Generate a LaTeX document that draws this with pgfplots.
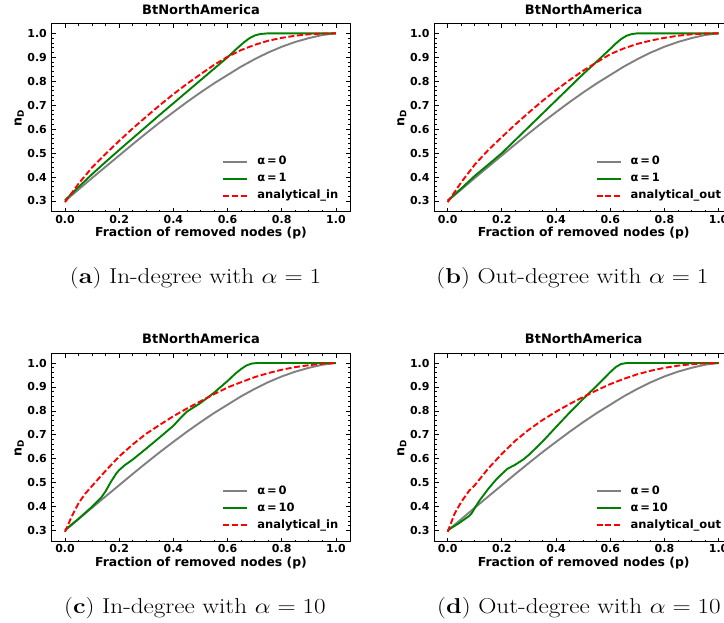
\RequirePackage{fix-cm}
\documentclass[border=0pt]{standalone}
\usepackage{fontspec}
\usepackage{graphicx}
\usepackage{pgfplots}
\usepackage{pgfplotstable}
\pgfplotsset{compat=1.18}
\newfontfamily\djv{DejaVu Sans}
\definecolor{mgray}{HTML}{808080}
\definecolor{mgreen}{HTML}{008000}
\definecolor{mred}{HTML}{FF0000}

% alpha = 0 baseline (same in all panels)
\pgfplotstableread{
p v
0.00 0.300
0.05 0.348
0.10 0.396
0.15 0.443
0.20 0.490
0.25 0.537
0.30 0.583
0.35 0.628
0.40 0.671
0.45 0.713
0.50 0.753
0.55 0.791
0.60 0.826
0.65 0.861
0.70 0.892
0.75 0.920
0.80 0.944
0.85 0.964
0.90 0.980
0.95 0.993
1.00 1.000
}\grayA

\pgfplotstableread{
p v
0.00 0.303
0.05 0.358
0.10 0.412
0.15 0.463
0.20 0.513
0.25 0.562
0.30 0.611
0.35 0.660
0.40 0.708
0.45 0.756
0.50 0.804
0.55 0.852
0.60 0.900
0.63 0.932
0.66 0.962
0.68 0.979
0.70 0.991
0.72 0.997
0.75 1.000
1.00 1.000
}\greenA

\pgfplotstableread{
p v
0.00 0.295
0.05 0.372
0.10 0.440
0.15 0.497
0.20 0.551
0.25 0.603
0.30 0.652
0.35 0.700
0.40 0.746
0.45 0.789
0.50 0.829
0.55 0.868
0.60 0.902
0.65 0.930
0.70 0.952
0.75 0.969
0.80 0.981
0.85 0.990
0.90 0.996
0.95 0.999
1.00 1.000
}\redA

\pgfplotstableread{
p v
0.00 0.302
0.05 0.352
0.10 0.405
0.15 0.452
0.20 0.500
0.25 0.555
0.30 0.610
0.35 0.665
0.40 0.720
0.45 0.775
0.50 0.830
0.55 0.882
0.60 0.935
0.62 0.957
0.64 0.976
0.66 0.990
0.68 0.997
0.70 1.000
1.00 1.000
}\greenB

\pgfplotstableread{
p v
0.00 0.295
0.05 0.378
0.10 0.452
0.15 0.513
0.20 0.567
0.25 0.620
0.30 0.670
0.35 0.718
0.40 0.763
0.45 0.805
0.50 0.844
0.55 0.879
0.60 0.913
0.65 0.937
0.70 0.956
0.75 0.970
0.80 0.981
0.85 0.990
0.90 0.996
0.95 0.999
1.00 1.000
}\redB

\pgfplotstableread{
p v
0.00 0.303
0.05 0.350
0.10 0.400
0.135 0.440
0.15 0.465
0.17 0.505
0.19 0.540
0.20 0.553
0.22 0.573
0.25 0.597
0.30 0.643
0.35 0.690
0.40 0.738
0.43 0.775
0.45 0.797
0.50 0.833
0.55 0.876
0.60 0.925
0.63 0.957
0.65 0.975
0.67 0.990
0.69 0.998
0.71 1.000
1.00 1.000
}\greenC

\pgfplotstableread{
p v
0.00 0.295
0.025 0.360
0.05 0.415
0.075 0.455
0.10 0.487
0.15 0.550
0.20 0.610
0.25 0.660
0.30 0.705
0.35 0.742
0.40 0.778
0.45 0.810
0.50 0.840
0.55 0.870
0.60 0.898
0.65 0.920
0.70 0.941
0.75 0.958
0.80 0.972
0.85 0.983
0.90 0.991
0.95 0.997
1.00 1.000
}\redC

\pgfplotstableread{
p v
0.00 0.302
0.04 0.330
0.08 0.362
0.09 0.375
0.10 0.395
0.12 0.430
0.15 0.475
0.18 0.515
0.20 0.537
0.22 0.558
0.25 0.576
0.28 0.598
0.30 0.617
0.35 0.672
0.40 0.733
0.45 0.793
0.50 0.850
0.55 0.905
0.60 0.962
0.62 0.983
0.64 0.996
0.66 1.000
1.00 1.000
}\greenD

\pgfplotstableread{
p v
0.00 0.295
0.025 0.370
0.05 0.420
0.08 0.468
0.10 0.490
0.15 0.560
0.20 0.621
0.25 0.676
0.30 0.722
0.35 0.762
0.40 0.797
0.45 0.829
0.50 0.858
0.55 0.886
0.60 0.912
0.65 0.934
0.70 0.953
0.75 0.968
0.80 0.980
0.85 0.989
0.90 0.995
0.95 0.999
1.00 1.000
}\redD

\pgfplotsset{
  panel/.style={
    scale only axis, width=298pt, height=188pt,
    anchor=south west,
    xmin=-0.048, xmax=1.052, ymin=0.254, ymax=1.039,
    xtick={0,0.2,0.4,0.6,0.8,1.0},
    xticklabels={0.0,0.2,0.4,0.6,0.8,1.0},
    ytick={0.3,0.4,0.5,0.6,0.7,0.8,0.9,1.0},
    yticklabels={0.3,0.4,0.5,0.6,0.7,0.8,0.9,1.0},
    minor x tick num=3, minor y tick num=4,
    tick align=inside, xtick pos=both, ytick pos=both,
    major tick length=4pt, minor tick length=2pt,
    every tick/.style={black, line width=0.8pt},
    axis line style={line width=1pt},
    ticklabel style={font=\djv\bfseries\fontsize{11}{11}\selectfont},
    xticklabel style={anchor=base, yshift=-11.3pt},
    yticklabel style={anchor=east, xshift=-1.6pt},
    title style={font=\djv\bfseries\fontsize{13}{13}\selectfont, at={(0.5,1)}, anchor=south, yshift=0pt},
    title={BtNorthAmerica},
    xlabel={Fraction of removed nodes (p)},
    xlabel style={font=\djv\bfseries\fontsize{12.4}{12.4}\selectfont, at={(axis description cs:0.5,0)}, anchor=base, yshift=-25pt},
    ylabel={n\textsubscript{D}},
    ylabel style={font=\djv\bfseries\fontsize{12.6}{12.6}\selectfont, at={(axis description cs:-0.11,0.5)}, anchor=center, rotate=0},
    legend style={draw=none, fill=none, font=\djv\bfseries\fontsize{11.5}{11.5}\selectfont,
      at={(axis description cs:0.98,0.03)}, anchor=south east,
      row sep=0pt, nodes={inner sep=2.5pt, text height=9pt, text depth=3pt}},
    legend cell align=left,
    legend image code/.code={\draw[##1, line width=2pt] (0pt,0pt) -- (24pt,0pt); \path (30.5pt,0pt);},
  },
  g0/.style={mgray, line width=1.9pt},
  g1/.style={mgreen, line width=1.9pt},
  r1/.style={mred, line width=1.9pt, dash pattern=on 6pt off 2.6pt},
}
\tikzset{subcap/.style={anchor=base, font=\fontsize{21.5}{26}\selectfont}}

\begin{document}
\begin{tikzpicture}
\path[use as bounding box] (0pt,0pt) rectangle (724pt,623pt);
\clip (0pt,0pt) rectangle (724pt,623pt);

\begin{axis}[panel, at={(52pt,411pt)}]
\addplot[g0] table[x=p,y=v] {\grayA}; \addlegendentry{α\,=\,0}
\addplot[g1] table[x=p,y=v] {\greenA}; \addlegendentry{α\,=\,1}
\addplot[r1] table[x=p,y=v] {\redA}; \addlegendentry{analytical\_in}
\end{axis}

\begin{axis}[panel, at={(434.7pt,411pt)}]
\addplot[g0] table[x=p,y=v] {\grayA}; \addlegendentry{α\,=\,0}
\addplot[g1] table[x=p,y=v] {\greenB}; \addlegendentry{α\,=\,1}
\addplot[r1] table[x=p,y=v] {\redB}; \addlegendentry{analytical\_out}
\end{axis}

\begin{axis}[panel, at={(52pt,81.3pt)}]
\addplot[g0] table[x=p,y=v] {\grayA}; \addlegendentry{α\,=\,0}
\addplot[g1] table[x=p,y=v] {\greenC}; \addlegendentry{α\,=\,10}
\addplot[r1] table[x=p,y=v] {\redC}; \addlegendentry{analytical\_in}
\end{axis}

\begin{axis}[panel, at={(434.7pt,81.3pt)}]
\addplot[g0] table[x=p,y=v] {\grayA}; \addlegendentry{α\,=\,0}
\addplot[g1] table[x=p,y=v] {\greenD}; \addlegendentry{α\,=\,10}
\addplot[r1] table[x=p,y=v] {\redD}; \addlegendentry{analytical\_out}
\end{axis}

\node[subcap] at (195.5pt,339pt) {\scalebox{1.17}[1]{(\textbf{a}) In-degree with $\alpha = 1$}};
\node[subcap] at (572.5pt,339pt) {\scalebox{1.17}[1]{(\textbf{b}) Out-degree with $\alpha = 1$}};
\node[subcap] at (195pt,9pt) {\scalebox{1.17}[1]{(\textbf{c}) In-degree with $\alpha = 10$}};
\node[subcap] at (579pt,9pt) {\scalebox{1.17}[1]{(\textbf{d}) Out-degree with $\alpha = 10$}};
\end{tikzpicture}
\end{document}
